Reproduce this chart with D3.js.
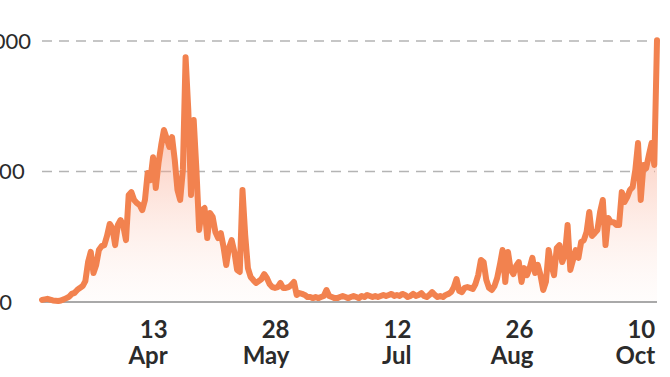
<!DOCTYPE html>
<html>
<head>
<meta charset="utf-8">
<script src="https://d3js.org/d3.v7.min.js"></script>
<style>
  html, body { margin: 0; padding: 0; background: #fff; }
  svg { display: block; }
  text { font-family: Lato, "Open Sans", sans-serif; fill: #2b2b2b; }
</style>
</head>
<body>
<svg width="670" height="377"></svg>
<script>
// daily values, first day 27 Feb 2020
var startDate = new Date(2020, 1, 27);
var values = [
  8, 10, 12, 9, 6, 5, 4, 6, 10, 15, 20, 31, 35, 46, 54, 61, 80, 153, 192, 111,
  142, 199, 214, 218, 253, 299, 283, 218, 295, 314, 291, 237, 410, 421, 391, 379, 372, 352, 391, 494,
  467, 555, 437, 532, 601, 659, 628, 594, 632, 544, 429, 391, 506, 938, 735, 410, 697, 506, 276, 352,
  360, 245, 341, 326, 268, 245, 264, 211, 142, 207, 237, 192, 123, 115, 429, 257, 130, 96, 84, 73,
  80, 88, 107, 92, 69, 57, 54, 57, 73, 54, 54, 57, 65, 77, 27, 34, 31, 27, 19, 19,
  15, 19, 15, 19, 23, 46, 23, 19, 15, 15, 19, 23, 19, 15, 19, 23, 19, 15, 23, 19,
  27, 23, 19, 23, 19, 23, 27, 23, 27, 31, 23, 27, 23, 31, 27, 19, 23, 31, 23, 27,
  34, 23, 19, 27, 38, 27, 19, 23, 19, 27, 31, 38, 57, 88, 42, 38, 54, 57, 54, 50,
  69, 103, 161, 153, 84, 54, 46, 61, 92, 142, 199, 77, 192, 123, 107, 138, 153, 77, 130, 103,
  130, 169, 111, 142, 103, 46, 77, 199, 142, 103, 207, 218, 153, 180, 295, 123, 161, 199, 169, 230,
  237, 268, 345, 253, 264, 276, 345, 391, 218, 322, 306, 306, 295, 295, 421, 383, 402, 429, 440, 506,
  609, 391, 525, 513, 563, 609, 525, 1003
];
var yTicks = [0, 500, 1000];
var xTicks = [new Date(2020, 3, 13), new Date(2020, 4, 28), new Date(2020, 6, 12),
              new Date(2020, 7, 26), new Date(2020, 9, 10)];

var data = values.map(function (v, i) {
  return { date: d3.timeDay.offset(startDate, i), value: v };
});

var svg = d3.select("svg");
var plotLeft = 42, plotRight = 657, plotTop = 41, plotBottom = 302;

var x = d3.scaleTime()
  .domain([startDate, d3.timeDay.offset(startDate, values.length - 1)])
  .range([plotLeft, plotRight]);
var y = d3.scaleLinear().domain([0, 1000]).range([plotBottom, plotTop]);

var defs = svg.append("defs");
var grad = defs.append("linearGradient")
  .attr("id", "fillGrad")
  .attr("gradientUnits", "userSpaceOnUse")
  .attr("x1", 0).attr("x2", 0)
  .attr("y1", y(800)).attr("y2", y(0));
grad.append("stop").attr("offset", "0%").attr("stop-color", "#f7825e").attr("stop-opacity", 0.6);
grad.append("stop").attr("offset", "100%").attr("stop-color", "#fde7df").attr("stop-opacity", 0.1);

// grid lines
svg.selectAll(".grid")
  .data(yTicks.filter(function (d) { return d > 0; }))
  .enter().append("line")
  .attr("class", "grid")
  .attr("x1", plotLeft).attr("x2", plotRight - 2)
  .attr("y1", function (d) { return y(d); })
  .attr("y2", function (d) { return y(d); })
  .attr("stroke", "#b4b4b4")
  .attr("stroke-width", 1.5)
  .attr("stroke-dasharray", "10,7");

// y labels, centred near the left edge (partly cut off)
svg.selectAll(".ylab")
  .data(yTicks)
  .enter().append("text")
  .attr("class", "ylab")
  .attr("x", 5.5)
  .attr("y", function (d) { return y(d); })
  .attr("dy", "0.36em")
  .attr("text-anchor", "middle")
  .style("font-size", "22px")
  .text(function (d) { return d; });

var area = d3.area()
  .x(function (d) { return x(d.date); })
  .y0(y(0))
  .y1(function (d) { return y(d.value); });

var line = d3.line()
  .x(function (d) { return x(d.date); })
  .y(function (d) { return y(d.value); });

svg.append("path")
  .datum(data)
  .attr("d", area)
  .attr("fill", "url(#fillGrad)");

// baseline
svg.append("line")
  .attr("x1", plotLeft).attr("x2", plotRight)
  .attr("y1", y(0)).attr("y2", y(0))
  .attr("stroke", "#a9a9a9")
  .attr("stroke-width", 2);

svg.append("path")
  .datum(data)
  .attr("d", line)
  .attr("fill", "none")
  .attr("stroke", "#f2824f")
  .attr("stroke-width", 6)
  .attr("stroke-linejoin", "round")
  .attr("stroke-linecap", "round");

// x labels: day on one line, month below
var dayFmt = d3.timeFormat("%-d"), monFmt = d3.timeFormat("%b");
var xl = svg.selectAll(".xlab")
  .data(xTicks)
  .enter().append("text")
  .attr("class", "xlab")
  .attr("text-anchor", "end")
  .style("font-size", "24px")
  .style("font-weight", "bold");
xl.append("tspan").attr("x", function (d) { return x(d) + 1; }).attr("y", 338).text(dayFmt);
xl.append("tspan").attr("x", function (d) { return x(d) + 1; }).attr("y", 364).text(monFmt);
</script>
</body>
</html>
